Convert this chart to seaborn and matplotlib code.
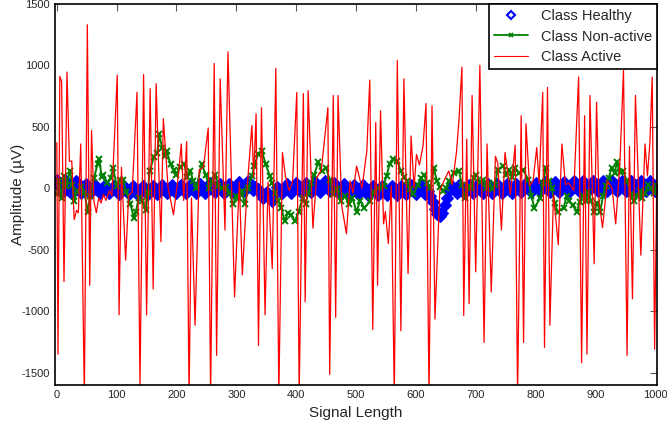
import numpy as np
import pandas as pd
import seaborn as sns
import matplotlib.pyplot as plt
from matplotlib.lines import Line2D

# Class Healthy: read every 4 samples along the blue band (rows of 12)
healthy_x = list(range(0, 1001, 4))
healthy_y = [65, 15, -35, 15, 60, 10, -40, 10, 55, 5, -35, 5,
             35, 0, -35, 0, 30, -5, -40, -5, 25, -10, -40, -10,
             20, -15, -50, -15, 20, -15, -50, -15, 20, -20, -55, -20,
             15, -15, -50, -15, 20, -10, -45, -10, 25, -5, -40, -5,
             30, -5, -40, -5, 30, -5, -40, -5, 35, 0, -35, 0,
             35, 0, -35, 0, 40, 5, -30, 5, 35, 0, -35, 0,
             35, 0, -35, 5, 50, 15, -20, 15, 55, 20, -15, 10,
             -10, -40, -80, -50, -30, -70, -100, -50, 10, -10, -40, -5,
             35, 0, -35, 0, 40, 5, -30, 5, 40, 5, -30, 5,
             50, 10, -30, 10, 55, 15, -25, 15, 45, 5, -35, 5,
             35, -5, -45, -5, 30, -10, -50, -10, 25, -15, -55, -15,
             15, -20, -55, -20, 15, -20, -55, -20, 15, -20, -55, -20,
             20, -15, -50, -15, 25, -10, -45, -10, 30, -5, -45, -20,
             -60, -110, -170, -210, -230, -200, -140, -80, -20, 20, -10, -40,
             30, 0, -40, -5, 30, 0, -35, 0, 35, 0, -35, 0,
             35, 0, -35, 0, 35, 0, -35, 0, 35, 0, -40, -5,
             35, 5, -30, 5, 40, 5, -30, 5, 45, 10, -25, 10,
             50, 10, -30, 10, 50, 10, -30, 10, 50, 10, -30, 10,
             55, 15, -25, 15, 55, 15, -25, 15, 60, 20, -20, 20,
             60, 20, -20, 20, 60, 20, -20, 20, 60, 20, -20, 20,
             55, 15, -25, 15, 60, 20, -20, 20, 55, 15, -20]

# Class Non-active (rows of x and y line up)
nonactive_x = [0, 4, 8, 12, 16, 22, 26, 29, 34, 40, 46, 52, 56, 62, 68, 71, 75,
               78, 84, 90, 94, 100, 105, 110, 116, 123, 129, 132, 137, 142, 149,
               152, 155, 162, 168, 171, 176, 180, 184, 190, 195, 200, 206, 213,
               218, 223, 228, 233, 242, 249, 255, 260, 265, 270, 276, 282, 288,
               295, 300, 304, 309, 314, 320, 326, 330, 336, 343, 349, 356, 360,
               365, 370, 375, 381, 386, 391, 398, 404, 411, 416, 420, 425, 430,
               437, 443, 450, 456, 462, 468, 475, 481, 488, 494, 501, 507, 514,
               524, 530, 537, 546, 551, 556, 562, 569, 575, 580, 585, 590, 595,
               604, 609, 614, 619, 624, 630, 635, 640, 645, 650, 656, 663, 672,
               677, 682, 688, 692, 697, 701, 708, 713, 717, 722, 727, 732, 737,
               746, 751, 756, 761, 766, 772, 779, 788, 793, 798, 808, 812, 817,
               822, 827, 832, 837, 847, 852, 856, 862, 869, 874, 879, 884, 888,
               893, 898, 903, 908, 913, 917, 922, 927, 932, 936, 941, 946, 953,
               959, 964, 969, 974, 978, 983, 988, 993, 998, 1003]
nonactive_y = [-50, 60, -80, 100, 20, 140, 30, -105, -20, 10, -40, -190, -60, 80, 195, 235, 90,
               110, 40, 85, 165, 20, 70, 70, -30, -130, -245, -190, -80, -105, -175,
               -40, 140, 250, 290, 440, 330, 260, 300, 195, 150, 110, 170, 195,
               90, 140, 60, 0, 195, 110, 0, 60, 110, 20, 0, 10, -40,
               -130, -60, -80, -20, -130, 0, 100, 180, 275, 300, 195, 100, 40,
               -40, -100, -160, -270, -200, -215, -270, -190, -80, -130, -40, 40, 110,
               210, 140, 165, 70, -50, -10, -105, -60, -130, -80, -190, -100, -160,
               -105, -30, 0, 20, 100, 195, 235, 220, 140, 90, 55, -10, -50,
               30, 80, 110, 40, 0, 165, 60, 10, -20, 0, 60, 125, 140,
               30, -80, 20, 0, 80, 110, 50, 70, 0, 40, -10, 30, 150,
               180, 110, 150, 90, 165, 120, 150, 70, -60, -160, -80, 40, 165,
               60, 0, -120, -190, -160, -60, -105, -140, -190, -110, -60, -100, -30,
               -100, -190, -120, -190, -60, 20, 80, 165, 120, 210, 130, 140, 60,
               -50, -105, -60, -20, -80, -40, 30, 0, -40, 20]

# Class Active: turning points of the trace (rows of 10)
active_x = [0, 2, 5, 8, 12, 17, 21, 25, 29, 33,
            36, 40, 46, 51, 55, 58, 62, 66, 70, 74,
            78, 82, 88, 92, 101, 104, 108, 115, 120, 126,
            134, 139, 145, 150, 156, 161, 166, 174, 178, 186,
            195, 203, 208, 212, 217, 221, 225, 231, 238, 245,
            253, 257, 263, 267, 273, 281, 286, 297, 301, 305,
            310, 318, 326, 329, 333, 337, 342, 348, 353, 360,
            366, 371, 377, 382, 388, 394, 401, 405, 412, 415,
            420, 428, 434, 442, 453, 456, 462, 466, 470, 476,
            484, 490, 495, 501, 510, 518, 523, 528, 533, 536,
            541, 546, 549, 554, 559, 564, 569, 575, 580, 587,
            592, 597, 601, 606, 612, 617, 622, 627, 632, 640,
            648, 655, 661, 668, 672, 677, 680, 685, 689, 694,
            700, 707, 714, 719, 726, 733, 737, 743, 749, 753,
            758, 766, 770, 776, 780, 784, 790, 796, 802, 806,
            812, 815, 820, 824, 830, 838, 844, 850, 856, 864,
            872, 877, 882, 886, 891, 898, 902, 906, 912, 920,
            928, 934, 941, 947, 953, 957, 962, 967, 976, 983,
            987, 991, 995, 999, 1004]
active_y = [370, -1350, 910, 870, -760, 945, 220, 220, -255, -180,
            -200, 360, -1700, 1330, -790, 470, -105, -200, -80, -120,
            -50, -100, -20, -60, 920, -1030, 170, -585, -60, -30,
            780, -1610, 925, -1030, 810, -820, 850, -435, 565, 0,
            -215, 100, 360, -100, 380, -1700, -80, -1115, 150, 170,
            490, -1700, 1015, -1360, 890, -340, 1110, -885, -400, 50,
            -705, 0, 510, 90, 605, -1280, 655, -1030, 50, -655,
            975, -1700, 290, 100, -20, 50, 780, -1700, 770, -925,
            795, -325, 80, 150, 655, -1515, 755, -1050, 755, -140,
            -370, 60, -40, 180, 0, 300, 880, -1150, 535, -790,
            630, -290, -190, -450, 20, -1700, 1040, -1160, 890, -695,
            425, 0, 275, 190, 345, 690, -1700, 670, -1065, -20,
            70, 140, 30, 300, 550, 985, -1035, 400, -940, 755,
            -680, 1000, -1255, 360, -845, 260, 200, -340, 290, 150,
            -50, 350, -1700, 590, -1255, 525, 20, 60, 330, 40,
            780, -1295, 820, -1115, -50, -460, 360, 30, 40, -20,
            905, -1420, 590, -1350, 755, -615, 700, -100, -320, 60,
            0, -290, 200, 960, -1360, 340, -900, 755, -545, 360,
            100, 360, 905, -1310, 590]

healthy = pd.DataFrame({'x': healthy_x, 'y': healthy_y})
nonactive = pd.DataFrame({'x': nonactive_x, 'y': nonactive_y})
active = pd.DataFrame({'x': active_x, 'y': active_y})

sns.set_style('white')
plt.rcParams['font.family'] = ['Liberation Sans', 'DejaVu Sans']
plt.rcParams['axes.unicode_minus'] = False

fig = plt.figure(figsize=(6.67, 4.3), dpi=100)
ax = fig.add_axes([0.0825, 0.105, 0.9025, 0.886])

# dense overlapping diamonds -> solid looking band, as in the reference
sns.lineplot(data=healthy, x='x', y='y', ax=ax, sort=False, estimator=None,
             lw=0, marker='D', markersize=6, markerfacecolor='blue',
             markeredgecolor='blue', markeredgewidth=0.8, color='blue')
sns.lineplot(data=nonactive, x='x', y='y', ax=ax, sort=False, estimator=None,
             lw=1.4, marker='x', markersize=5, markeredgewidth=1.4,
             markeredgecolor='#008000', color='#008000')
sns.lineplot(data=active, x='x', y='y', ax=ax, sort=False, estimator=None,
             lw=0.9, color='red')

ax.set_xlim(-3, 1003)
ax.set_ylim(-1600, 1500)
ax.set_xticks(range(0, 1001, 100))
ax.set_yticks(range(-1500, 1501, 500))
ax.tick_params(direction='in', length=5, width=0.8, labelsize=8,
               top=True, right=True, color='#555555', pad=4)
for s in ax.spines.values():
    s.set_color('black')
    s.set_linewidth(1.2)
ax.set_xlabel('Signal Length', fontsize=11)
ax.set_ylabel('Amplitude (µV)', fontsize=11)
ax.xaxis.set_label_coords(0.5, -0.055)
ax.yaxis.set_label_coords(-0.05, 0.5)

handles = [
    Line2D([], [], ls='none', marker='D', markersize=4.5, markerfacecolor='none',
           markeredgecolor='blue', markeredgewidth=1.5),
    Line2D([], [], color='#008000', lw=1.3, marker='x', markersize=3,
           markeredgewidth=1.3),
    Line2D([], [], color='red', lw=0.8),
]
leg = ax.legend(handles, ['Class Healthy', 'Class Non-active', 'Class Active'],
                loc='upper right', borderaxespad=0, fancybox=False,
                framealpha=1, edgecolor='black', fontsize=10.5,
                handlelength=2.3, handletextpad=0.9, labelspacing=0.45,
                borderpad=0.35)
leg.get_frame().set_linewidth(1.2)

fig.savefig('out.png', dpi=100)
